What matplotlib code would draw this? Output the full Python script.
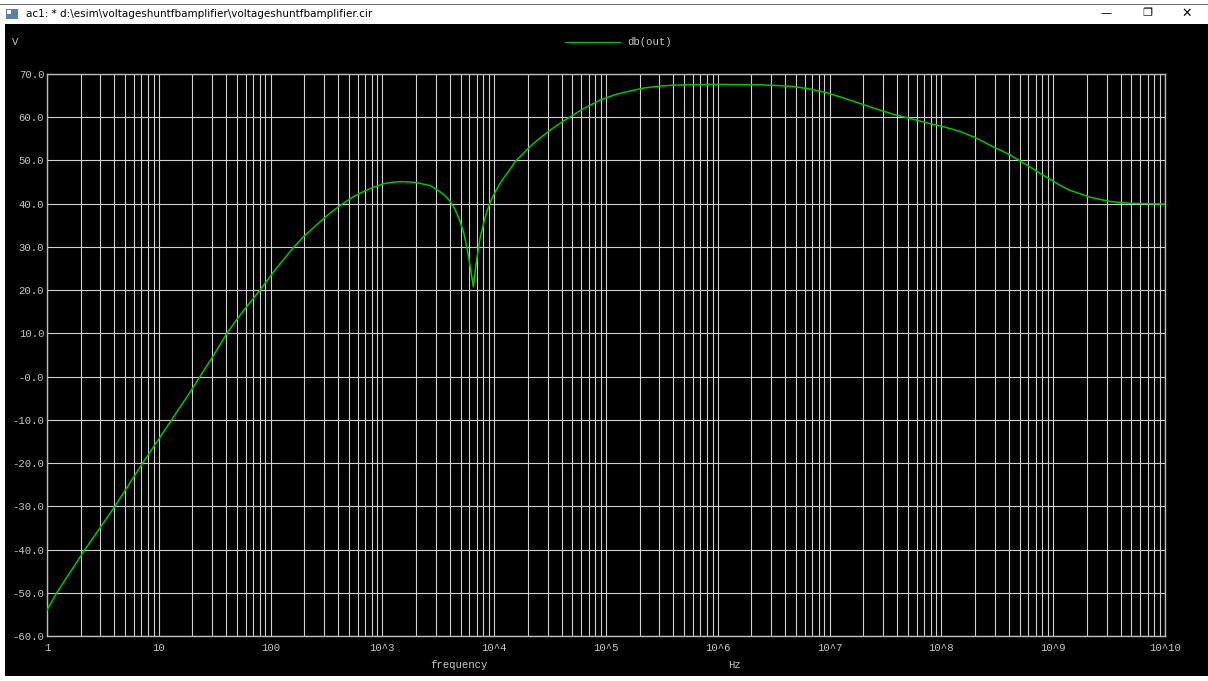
import matplotlib.pyplot as plt
from matplotlib.patches import Rectangle
from matplotlib.ticker import FixedLocator, NullFormatter

# gain of the shunt-feedback amplifier, read as log10(f) / dB pairs
log_freq = [0.0, 0.087, 0.34, 0.608, 0.856, 1.115, 1.303, 1.368, 1.49, 1.607,
            1.68, 1.75, 1.905, 2.05, 2.209, 2.3, 2.412, 2.53, 2.645, 2.74,
            2.83, 2.92, 3.008, 3.1, 3.187, 3.3, 3.426, 3.486, 3.55, 3.605,
            3.65, 3.694, 3.73, 3.76, 3.79, 3.813, 3.843, 3.873, 3.909, 3.935,
            3.962, 3.99, 4.022, 4.06, 4.112, 4.19, 4.29, 4.35, 4.42, 4.5,
            4.59, 4.68, 4.8, 4.95, 5.08, 5.22, 5.35, 5.48, 5.6, 5.72,
            6.0, 6.38, 6.56, 6.68, 6.83, 6.97, 7.12, 7.27, 7.42, 7.57,
            7.72, 7.87, 8.02, 8.17, 8.32, 8.46, 8.614, 8.76, 8.91, 9.06,
            9.15, 9.33, 9.51, 9.69, 10.0]
gain_db = [-54.0, -50.0, -40.0, -30.0, -20.0, -10.0, -2.7, 0.0, 4.9, 9.9,
           12.6, 15.0, 20.0, 25.0, 30.0, 32.5, 35.1, 37.8, 40.0, 41.6,
           42.8, 43.8, 44.6, 45.0, 45.1, 44.9, 44.2, 43.3, 42.1, 40.6,
           38.7, 36.0, 33.0, 29.3, 24.7, 20.8, 27.0, 32.0, 35.8, 38.2,
           40.1, 41.8, 43.3, 45.0, 46.9, 49.8, 52.4, 53.9, 55.4, 57.0,
           58.6, 60.1, 62.0, 64.0, 65.2, 66.1, 66.8, 67.2, 67.4, 67.5,
           67.6, 67.5, 67.3, 67.1, 66.5, 65.7, 64.5, 63.2, 61.9, 60.7,
           59.7, 58.7, 57.8, 56.7, 55.1, 53.2, 51.3, 49.0, 46.6, 44.3,
           43.1, 41.5, 40.5, 40.1, 39.9]

x_decades = list(range(0, 11))
x_labels = ["1", "10", "100", "10^3", "10^4", "10^5", "10^6", "10^7",
            "10^8", "10^9", "10^10"]
y_ticks = list(range(-60, 80, 10))
y_labels = ["-60.0", "-50.0", "-40.0", "-30.0", "-20.0", "-10.0", "-0.0",
            "10.0", "20.0", "30.0", "40.0", "50.0", "60.0", "70.0"]

W, H = 1208, 681
fig = plt.figure(figsize=(W / 100, H / 100), dpi=100)
fig.patch.set_facecolor("black")

def px_rect(x, y, w, h, color):
    # rectangle in pixel coords measured from the top-left corner
    fig.add_artist(Rectangle((x / W, 1 - (y + h) / H), w / W, h / H,
                             transform=fig.transFigure, facecolor=color,
                             edgecolor="none", zorder=-5))

# window frame: title bar and thin white borders
px_rect(0, 0, W, 24, "white")
px_rect(0, 4, W, 1, "#707070")
px_rect(0, 24, 5, H - 24, "white")
px_rect(0, 676, W, 5, "white")
px_rect(6, 9, 12, 10, "#5a7fa8")
px_rect(7, 10, 4, 4, "#ffffff")

fig.text(26 / W, 1 - 14 / H,
         "ac1: * d:\\esim\\voltageshuntfbamplifier\\voltageshuntfbamplifier.cir",
         fontsize=7.5, family="DejaVu Sans", color="black", va="center")
fig.text(1106 / W, 1 - 13 / H, "\u2014", fontsize=8, color="black",
         ha="center", va="center")
fig.text(1147 / W, 1 - 13 / H, "\u2750", fontsize=8, color="black",
         ha="center", va="center", family="DejaVu Sans")
fig.text(1187 / W, 1 - 13 / H, "\u2715", fontsize=9, color="black",
         ha="center", va="center", family="DejaVu Sans")

left, right, top, bottom = 47, 1165, 74, 636
ax = fig.add_axes([left / W, 1 - bottom / H, (right - left) / W,
                   (bottom - top) / H])
ax.set_facecolor("black")
ax.set_xscale("log")
ax.set_xlim(1, 1e10)
ax.set_ylim(-60, 70)

minor = [m * 10 ** d for d in range(10) for m in range(2, 10)]
ax.xaxis.set_major_locator(FixedLocator([10 ** d for d in x_decades]))
ax.xaxis.set_minor_locator(FixedLocator(minor))
ax.xaxis.set_minor_formatter(NullFormatter())
ax.set_xticklabels(x_labels)
ax.set_yticks(y_ticks)
ax.set_yticklabels(y_labels)

ax.grid(True, which="both", color="#d0d0d0", lw=0.8)
ax.tick_params(which="both", length=0, colors="#c8c8c8", labelsize=7.7)
ax.tick_params(axis="x", pad=5)
ax.tick_params(axis="y", pad=2)
for lab in ax.get_xticklabels() + ax.get_yticklabels():
    lab.set_family("Liberation Mono")
for sp in ax.spines.values():
    sp.set_color("#bdbdbd")
    sp.set_linewidth(1.0)

ax.plot([10 ** v for v in log_freq], gain_db, color="#00c800", lw=1.1,
        zorder=3)

mono = dict(family="Liberation Mono", fontsize=7.7, color="#c8c8c8")
fig.text(15 / W, 1 - 42 / H, "V", va="center", ha="center", **mono)
fig.add_artist(plt.Line2D([565 / W, 620 / W], [1 - 42 / H, 1 - 42 / H],
                          color="#00c800", lw=0.8, transform=fig.transFigure))
fig.text(627 / W, 1 - 42 / H, "db(out)", va="center", ha="left", **mono)
fig.text(459 / W, 1 - 665 / H, "frequency", va="center", ha="center", **mono)
fig.text(734 / W, 1 - 665 / H, "Hz", va="center", ha="center", **mono)

fig.savefig("out.png", dpi=100, facecolor=fig.get_facecolor())
